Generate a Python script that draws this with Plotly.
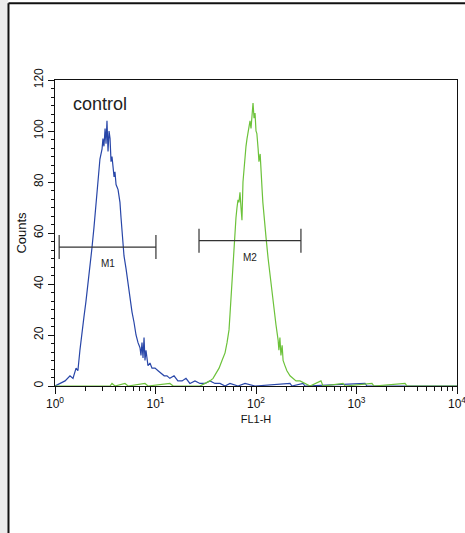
import math
import plotly.graph_objects as go

# FL1-H histogram (control = blue, sample = green)
control_fl1 = [1.00, 1.12, 1.26, 1.41, 1.51, 1.62, 1.69, 1.77, 1.86, 1.94, 2.03, 2.13,
               2.23, 2.33, 2.44, 2.56, 2.68, 2.80, 2.94, 3.00, 3.07, 3.15, 3.22, 3.29,
               3.37, 3.45, 3.53, 3.61, 3.69, 3.87, 3.95, 4.05, 4.24, 4.33, 4.43, 4.54,
               4.64, 4.75, 4.86, 5.09, 5.33, 5.58, 5.84, 6.11, 6.40, 6.70, 7.01, 7.17,
               7.34, 7.51, 7.69, 7.86, 8.04, 8.42, 8.81, 9.23, 9.89, 10.6, 11.3, 12.2,
               13.0, 13.9, 15.3, 16.7, 18.4, 20.1, 22.0, 24.7, 27.7, 31.1, 34.8, 39.1,
               43.8, 49.2, 55.1, 66.2, 77.8, 97.7, 218, 228, 294, 307, 1216, 1271, 10000]
control_counts = [0, 1, 2, 4, 3, 7, 6, 14, 22, 27, 33, 40,
                  46, 54, 62, 72, 82, 89, 93, 97, 94, 101, 95, 104,
                  92, 100, 97, 88, 90, 82, 84, 79, 77, 74, 72, 66,
                  60, 55, 51, 46, 40, 35, 29, 25, 20, 17, 15, 12,
                  17, 11, 19, 10, 14, 8, 9, 7, 7, 6, 5, 4,
                  4, 3, 4, 2, 2, 3, 1, 2, 1, 1, 2, 1,
                  1, 0, 1, 0, 1, 0, 1, 0, 1, 0, 1, 0, 0]

sample_fl1 = [1.00, 3.53, 3.69, 3.95, 4.97, 5.33, 7.86, 8.42, 13.9, 15.0, 27.7, 31.1,
              34.8, 37.4, 40.0, 42.9, 45.9, 49.2, 51.5, 53.9, 55.1, 56.4, 57.7, 59.0,
              60.4, 61.8, 63.2, 64.7, 66.2, 67.7, 69.3, 70.9, 72.5, 74.2, 75.9, 77.8,
              79.5, 81.4, 83.3, 85.2, 87.2, 89.2, 91.3, 93.4, 95.6, 97.8, 100, 102,
              105, 107, 110, 112, 115, 117, 120, 126, 132, 138, 144, 151,
              158, 166, 169, 173, 177, 182, 186, 194, 203, 218, 233, 250,
              274, 307, 345, 443, 464, 734, 769, 1426, 1493, 3040, 3183, 10000]
sample_counts = [0, 0, 1, 0, 1, 0, 1, 0, 1, 0, 0, 1,
                 2, 3, 5, 7, 10, 13, 17, 22, 28, 35, 42, 50,
                 56, 61, 66, 70, 73, 72, 76, 70, 65, 80, 86, 89,
                 94, 97, 99, 102, 104, 101, 106, 111, 105, 107, 100, 99,
                 93, 88, 91, 82, 77, 72, 66, 58, 50, 43, 36, 29,
                 24, 18, 14, 19, 12, 16, 10, 8, 6, 4, 3, 2,
                 2, 1, 0, 2, 0, 1, 0, 1, 0, 1, 0, 0]

# marker gates M1 / M2
gate_names = ["M1", "M2"]
gate_lo = [1.10, 27.1]
gate_hi = [10.1, 280]
gate_y = [54.5, 57]

x_ticks = [1, 10, 100, 1000, 10000]
x_ticktext = ["10<sup>0</sup>", "10<sup>1</sup>", "10<sup>2</sup>", "10<sup>3</sup>", "10<sup>4</sup>"]
y_ticks = [0, 20, 40, 60, 80, 100, 120]

BLUE = "#2846a8"
GREEN = "#6cc23a"
FONT = "Liberation Sans, Arial, sans-serif"

fig = go.Figure()

fig.add_trace(go.Scatter(x=control_fl1, y=control_counts, mode="lines",
                         line=dict(color=BLUE, width=1.2), hoverinfo="skip"))
fig.add_trace(go.Scatter(x=sample_fl1, y=sample_counts, mode="lines",
                         line=dict(color=GREEN, width=1.2), hoverinfo="skip"))

# gates: horizontal bar with end caps + label
for name, lo, hi, yv in zip(gate_names, gate_lo, gate_hi, gate_y):
    fig.add_trace(go.Scatter(
        x=[lo, lo, None, lo, hi, None, hi, hi],
        y=[yv - 4.7, yv + 4.7, None, yv, yv, None, yv - 4.7, yv + 4.7],
        mode="lines", line=dict(color="#333333", width=1.2), hoverinfo="skip"))
    # log axis: annotation x is given in log10 units
    mid = (math.log10(lo) + math.log10(hi)) / 2
    fig.add_annotation(x=mid, y=yv - 3.5, xref="x", yref="y", text=name,
                       showarrow=False, yanchor="top",
                       font=dict(family=FONT, size=10, color="#222222"))

fig.add_annotation(x=0.04, y=0.92, xref="paper", yref="paper", text="control",
                   showarrow=False, xanchor="left", yanchor="middle",
                   font=dict(family=FONT, size=18, color="#222222"))

# outer frame of the picture (grey strip, left and top black lines)
fig.add_shape(type="rect", xref="paper", yref="paper", x0=-0.1368, x1=-0.1167,
              y0=-0.49, y1=1.27, fillcolor="#ececec", line_width=0, layer="below")
fig.add_shape(type="line", xref="paper", yref="paper", x0=-0.1157, x1=-0.1157,
              y0=-0.49, y1=1.251, line=dict(color="#111111", width=2))
fig.add_shape(type="line", xref="paper", yref="paper", x0=-0.1157, x1=1.03,
              y0=1.251, y1=1.251, line=dict(color="#111111", width=2))

fig.update_xaxes(
    type="log", range=[0, 4], tickvals=x_ticks, ticktext=x_ticktext,
    automargin=False, ticklabeloverflow="allow",
    ticks="outside", ticklen=7, tickcolor="#111111", tickwidth=1,
    minor=dict(tickvals=[m * d for d in [1, 10, 100, 1000] for m in range(2, 10)],
               ticks="outside", ticklen=4, tickcolor="#111111", tickwidth=1),
    showline=True, linecolor="#111111", linewidth=1, mirror=True,
    showgrid=False, zeroline=False,
    tickfont=dict(family=FONT, size=12, color="#111111"),
    title=dict(text="FL1-H", standoff=4, font=dict(family=FONT, size=11, color="#111111")),
)
fig.update_yaxes(
    range=[0, 120], tickvals=y_ticks, tickangle=-90,
    automargin=False,
    ticks="outside", ticklen=6, tickcolor="#111111", tickwidth=1,
    minor=dict(dtick=10 / 3, tick0=0, ticks="outside", ticklen=3,
               tickcolor="#111111", tickwidth=1),
    showline=True, linecolor="#111111", linewidth=1, mirror=True,
    showgrid=False, zeroline=False,
    tickfont=dict(family=FONT, size=12, color="#111111"),
    title=dict(text="Counts", standoff=2, font=dict(family=FONT, size=13, color="#111111")),
)

fig.update_layout(
    width=465, height=533,
    margin=dict(l=55, r=8, t=80, b=147),
    paper_bgcolor="white", plot_bgcolor="white",
    showlegend=False,
)

# page body has a default 8px margin; drop it so the figure sits at the window origin
fig.write_html("out.html", config={"displayModeBar": False},
               post_script="document.body.style.margin='0';")
